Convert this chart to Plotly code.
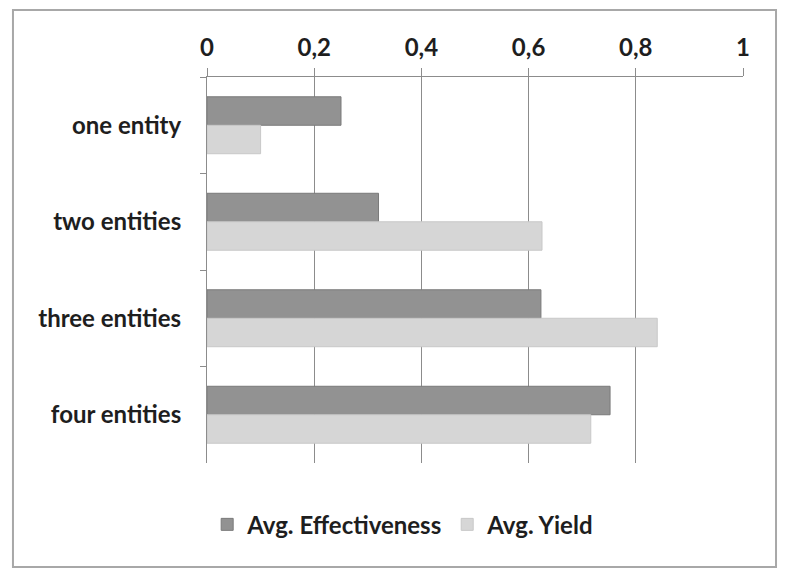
import plotly.graph_objects as go

categories = ["one entity", "two entities", "three entities", "four entities"]
avg_effectiveness = [0.25, 0.32, 0.623, 0.752]
avg_yield = [0.10, 0.625, 0.84, 0.716]
x_ticks = [0, 0.2, 0.4, 0.6, 0.8, 1]

FONT = "Lato"
TEXT = "#1e1e1e"
fig = go.Figure()
fig.add_trace(go.Bar(
    y=categories, x=avg_effectiveness, orientation="h",
    name="Avg. Effectiveness",
    marker=dict(color="#929292", line=dict(color="#7a7a7a", width=1)),
))
fig.add_trace(go.Bar(
    y=categories, x=avg_yield, orientation="h",
    name="Avg. Yield",
    marker=dict(color="#d6d6d6", line=dict(color="#c8c8c8", width=1)),
))

fig.update_layout(
    width=791, height=570,
    margin=dict(l=207, r=48, t=77, b=107),
    paper_bgcolor="white", plot_bgcolor="white",
    barmode="group", bargap=0.41, bargroupgap=0,
    separators=",.",
    font=dict(family=FONT, size=24, color=TEXT),
    showlegend=True,
    legend=dict(
        orientation="h", x=0.366, y=-0.16, xanchor="center", yanchor="middle",
        font=dict(family=FONT, size=24, color=TEXT, weight="bold"),
        itemwidth=30, traceorder="normal",
    ),
    xaxis=dict(
        side="top", range=[0, 1], tickvals=x_ticks,
        showgrid=True, gridcolor="#8c8c8c", gridwidth=1,
        showline=True, linecolor="#8c8c8c", linewidth=1,
        ticks="outside", ticklen=8, tickcolor="#8c8c8c",
        ticklabelstandoff=2,
        tickfont=dict(family=FONT, size=24, color=TEXT, weight="bold"),
        zeroline=False, fixedrange=True,
    ),
    yaxis=dict(
        autorange="reversed", tickson="boundaries",
        showline=True, linecolor="#8c8c8c", linewidth=1,
        ticks="outside", ticklen=6, tickcolor="#8c8c8c",
        ticklabelstandoff=20,
        tickfont=dict(family=FONT, size=24, color=TEXT, weight="bold"),
        showgrid=False, fixedrange=True,
    ),
    shapes=[dict(
        type="rect", xref="paper", yref="paper",
        x0=-0.362, x1=1.0616, y0=-0.2694, y1=1.1736,
        line=dict(color="#a8a8a8", width=2), layer="below",
    )],
)

fig.write_html("out.html")
